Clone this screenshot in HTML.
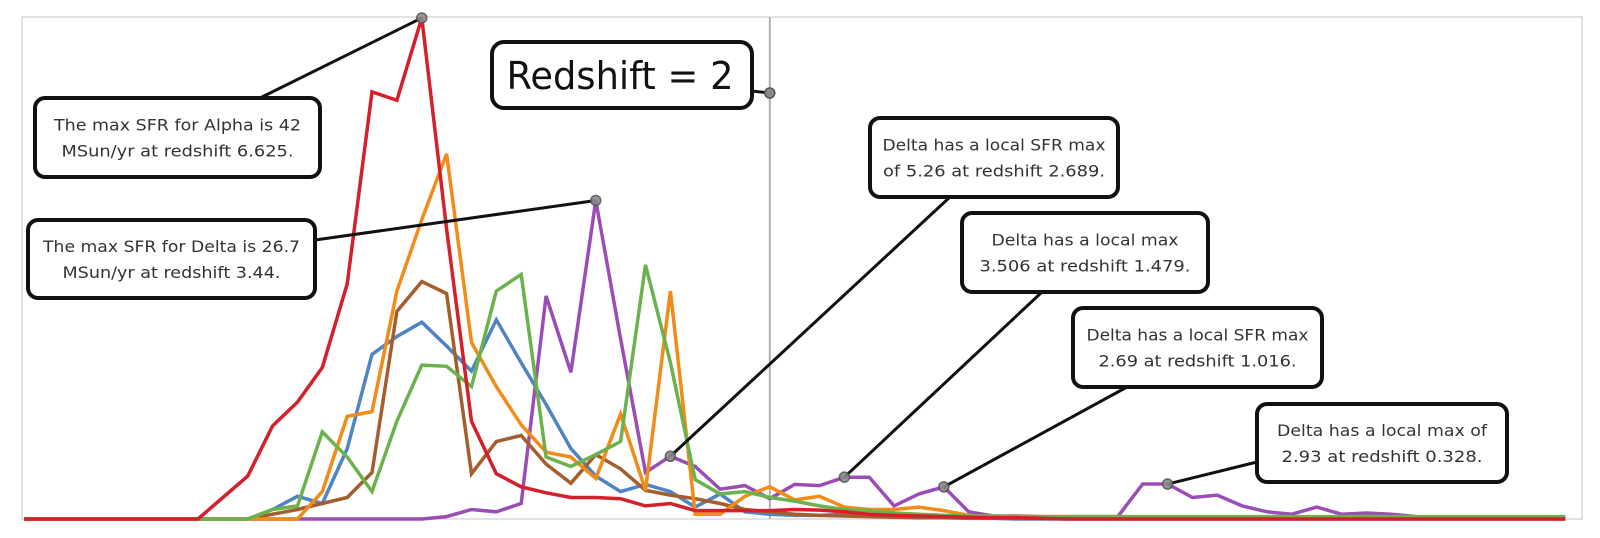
<!DOCTYPE html>
<html><head><meta charset="utf-8"><style>
html,body{margin:0;padding:0;background:#fff;}
svg{display:block;}
text{font-family:"DejaVu Sans","Liberation Sans",sans-serif;fill:#333;}
</style></head><body>
<svg id="chart" width="1600" height="538" viewBox="0 0 1600 538">
<rect x="22" y="17" width="1560" height="502" fill="none" stroke="#d9d9d9" stroke-width="1.5"/>
<g id="series"></g>
<g id="annots"></g>
</svg>
<script>
const redVals=[0,0,0,0,0,0,0,0,1.8,3.6,7.8,9.8,12.7,19.7,35.8,35.1,42,24.3,8.2,3.8,2.7,2.2,1.8,1.8,1.7,1.1,1.3,0.7,0.7,0.7,0.7,0.8,0.75,0.6,0.4,0.3,0.25,0.2,0.15,0.1,0.1,0.05,0,0,0,0,0,0,0,0,0,0,0,0,0,0,0,0,0,0,0,0,0];
const orangeVals=[0,0,0,0,0,0,0,0,0,0,0,0,2.3,8.6,9.0,19.1,25.1,30.6,14.8,11.1,7.9,5.6,5.2,3.4,8.8,2.4,19.1,0.4,0.4,1.9,2.7,1.6,1.9,1.0,0.8,0.8,1.0,0.7,0.3,0.2,0.2,0.2,0.15,0.15,0.15,0.15,0.15,0.15,0.15,0.15,0.15,0.15,0.1,0.1,0.1,0.1,0.1,0.1,0.1,0.1,0.1,0.1,0.1];
const brownVals=[0,0,0,0,0,0,0,0,0,0,0.4,0.8,1.3,1.8,3.9,17.4,19.9,18.9,3.8,6.5,7.0,4.6,3.0,5.4,4.2,2.4,2.0,1.7,1.3,0.8,0.6,0.4,0.3,0.25,0.2,0.15,0.1,0.1,0.1,0.1,0.05,0.05,0.05,0.05,0.05,0.05,0.05,0.05,0.05,0.05,0.05,0.05,0.05,0.05,0.05,0.05,0.05,0.05,0.05,0.05,0.05,0.05,0.05];
const blueVals=[0,0,0,0,0,0,0,0,0,0,0.8,1.9,1.3,5.9,13.8,15.3,16.5,14.5,12.4,16.7,13.1,9.6,5.9,3.6,2.3,2.9,2.3,1.0,2.1,0.6,0.4,0.3,0.3,0.4,0.25,0.2,0.1,0.1,0.05,0.05,0,0,0,0,0,0,0,0,0,0,0,0,0,0,0,0,0,0,0,0,0,0,0];
const greenVals=[0,0,0,0,0,0,0,0,0,0,0.8,1.1,7.3,5.2,2.3,8.2,12.9,12.8,11.1,19.1,20.5,5.2,4.4,5.4,6.5,21.3,13.1,3.3,2.1,2.3,1.8,1.5,1.1,0.8,0.7,0.5,0.4,0.3,0.25,0.25,0.2,0.2,0.2,0.2,0.2,0.2,0.2,0.2,0.2,0.2,0.2,0.2,0.2,0.2,0.2,0.2,0.2,0.2,0.2,0.2,0.2,0.2,0.2];
const purpleVals=[0,0,0,0,0,0,0,0,0,0,0,0,0,0,0,0,0,0.2,0.8,0.6,1.3,18.7,12.3,26.7,15.1,3.9,5.26,4.4,2.5,2.8,1.7,2.9,2.8,3.506,3.5,1.1,2.1,2.69,0.6,0.25,0.25,0.2,0.2,0.2,0.2,2.93,2.93,1.8,2.0,1.1,0.6,0.4,1.0,0.4,0.5,0.4,0.2,0.1,0.1,0.1,0.1,0.1,0.1];
const seriesNames=["purple","blue","brown","orange","green","red"];
const seriesColors=["#9a4db5","#4f84c4","#a45e2c","#f28b17","#6bb24d","#d4202a"];
const redshiftLineIndex=30;

const NS="http://www.w3.org/2000/svg";
function xs(i){return 24+i*24.86;}
function ys(v){return 519-v*11.93;}
const allVals=[purpleVals,blueVals,brownVals,orangeVals,greenVals,redVals];
const sg=document.getElementById('series');
allVals.forEach((arr,k)=>{
  const p=document.createElementNS(NS,'polyline');
  p.setAttribute('points',arr.map((v,i)=>xs(i).toFixed(1)+','+ys(v).toFixed(1)).join(' '));
  p.setAttribute('fill','none');p.setAttribute('stroke',seriesColors[k]);
  p.setAttribute('stroke-width','3.5');p.setAttribute('stroke-linejoin','miter');
  
  
  sg.appendChild(p);
});
const vl=document.createElementNS(NS,'line');
vl.setAttribute('x1',xs(redshiftLineIndex));vl.setAttribute('x2',xs(redshiftLineIndex));
vl.setAttribute('y1',17);vl.setAttribute('y2',519);
vl.setAttribute('stroke','#b0b0b0');vl.setAttribute('stroke-width','2');


sg.insertBefore(vl,sg.firstChild);

const ag=document.getElementById('annots');
function el(tag,attrs){const e=document.createElementNS(NS,tag);for(const k in attrs)e.setAttribute(k,attrs[k]);return e;}
const notes=[
 {b:[35,98,285,79],from:[260,98],arr:redVals,i:16,t:["The max SFR for Alpha is 42","MSun/yr at redshift 6.625."],w:[247,232],n:"alpha-max-callout"},
 {b:[28,220,287,78],from:[315,240],arr:purpleVals,i:23,t:["The max SFR for Delta is 26.7","MSun/yr at redshift 3.44."],w:[257,218],n:"delta-max-callout"},
 {b:[870,118,248,79],from:[950,197],arr:purpleVals,i:26,t:["Delta has a local SFR max","of 5.26 at redshift 2.689."],w:[223,222],n:"delta-local-max-2689-callout"},
 {b:[962,213,246,79],from:[1042,292],arr:purpleVals,i:33,t:["Delta has a local max","3.506 at redshift 1.479."],w:[187,211],n:"delta-local-max-1479-callout"},
 {b:[1073,308,249,79],from:[1127,387],arr:purpleVals,i:37,t:["Delta has a local SFR max","2.69 at redshift 1.016."],w:[222,198],n:"delta-local-max-1016-callout"},
 {b:[1257,404,250,78],from:[1257,462],arr:purpleVals,i:46,t:["Delta has a local max of","2.93 at redshift 0.328."],w:[210,201],n:"delta-local-max-0328-callout"}
];
notes.forEach(o=>{
  const tx=xs(o.i),ty=ys(o.arr[o.i]);
  const g=el('g',{});
  
  
  g.appendChild(el('line',{x1:o.from[0],y1:o.from[1],x2:tx,y2:ty,stroke:'#111','stroke-width':3}));
  g.appendChild(el('circle',{cx:tx,cy:ty,r:5,fill:'#8a8a8a',stroke:'#555','stroke-width':1.5,opacity:0.9}));
  const [bx,by,bw,bh]=o.b;
  g.appendChild(el('rect',{x:bx,y:by,width:bw,height:bh,rx:10,fill:'#fff',stroke:'#111','stroke-width':4}));
  const cx=bx+bw/2,cy=by+bh/2;
  o.t.forEach((s,j)=>{
    const t=el('text',{x:cx,y:cy+(j?14:-12)+5,'text-anchor':'middle','font-size':'16',textLength:o.w[j],lengthAdjust:'spacingAndGlyphs'});
    t.textContent=s;g.appendChild(t);
  });
  ag.appendChild(g);
});
const rg=el('g',{});


rg.appendChild(el('line',{x1:752,y1:91,x2:xs(redshiftLineIndex),y2:93,stroke:'#111','stroke-width':3}));
rg.appendChild(el('circle',{cx:xs(redshiftLineIndex),cy:93,r:5,fill:'#8a8a8a',stroke:'#555','stroke-width':1.5}));
rg.appendChild(el('rect',{x:492,y:42,width:260,height:66,rx:12,fill:'#fff',stroke:'#111','stroke-width':4}));
const rt=el('text',{x:620,y:89,'text-anchor':'middle','font-size':'38',textLength:227,lengthAdjust:'spacingAndGlyphs'});
rt.setAttribute('style','fill:#111');
rt.textContent="Redshift = 2";rg.appendChild(rt);
ag.appendChild(rg);
</script>
</body></html>
